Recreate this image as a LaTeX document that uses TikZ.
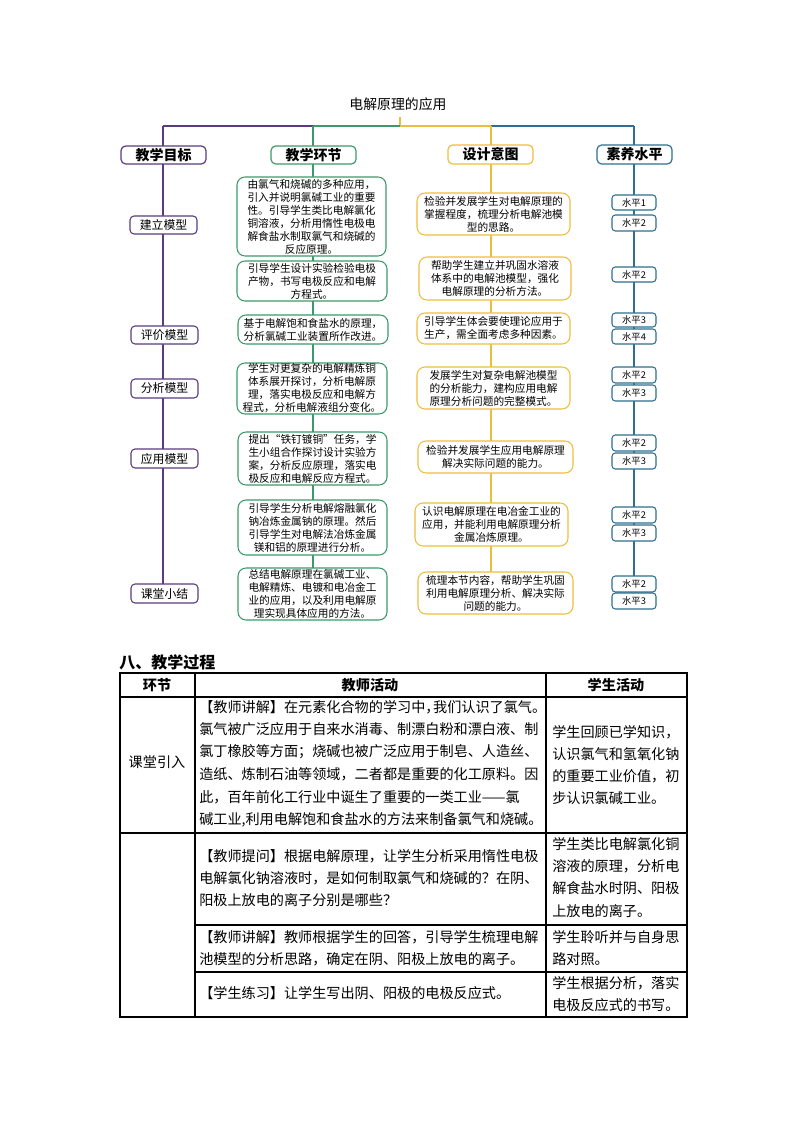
\documentclass[tikz,border=0pt]{standalone}
\usepackage{fontspec}
\setmainfont{Noto Sans CJK SC}
\usetikzlibrary{backgrounds}
\definecolor{cp}{HTML}{5A3A80}
\definecolor{cg}{HTML}{3A9A6A}
\definecolor{cy}{HTML}{EDBE3C}
\definecolor{cb}{HTML}{2E6E8E}
\newcommand{\bx}[7]{\node[#2, minimum width={(#5-#3)*0.75pt}, minimum height={(#6-#4)*0.75pt}] (#1) at ({(#3+#5)/2},{(#4+#6)/2}) {#7};}
\begin{document}
\begin{tikzpicture}[x=0.75pt,y=-0.75pt,
  rbox/.style={draw=#1, fill=white, rounded corners=6pt, line width=0.8pt, inner sep=0pt, outer sep=0pt, align=center, font=\fontsize{8}{9.75}\selectfont},
  hbox/.style={draw=#1, fill=white, rounded corners=3.5pt, line width=0.9pt, inner sep=0pt, outer sep=0pt, font=\fontsize{10.5}{12}\selectfont\bfseries},
  sbox/.style={draw=cp, fill=white, rounded corners=3pt, line width=0.8pt, inner sep=0pt, outer sep=0pt, font=\fontsize{8.9}{10}\selectfont},
  lvl/.style={draw=cb, fill=white, rounded corners=2.5pt, line width=0.8pt, inner sep=0pt, outer sep=0pt, font=\fontsize{7}{8}\selectfont},
  link/.style={line width=1.1pt},
  tline/.style={line width=0.8pt, black},
  tt/.style={anchor=west, inner sep=0pt, font=\fontsize{10.6}{12}\selectfont},
  tc/.style={inner sep=0pt, font=\fontsize{10.6}{12}\selectfont},
  th/.style={inner sep=0pt, font=\fontsize{10.6}{12}\selectfont\bfseries}]
\useasboundingbox (0,0) rectangle (794,1123);

% title and trunk coordinates
\node[inner sep=0pt, font=\fontsize{10.4}{12}\selectfont] (title) at (398,104) {电解原理的应用};
\coordinate (tstub) at (400,117);
\coordinate (top) at (400,126);
\coordinate (c1) at (163,126);
\coordinate (c2) at (313,126);
\coordinate (c3) at (491,126);
\coordinate (c4) at (634,126);

% headers
\bx{h1}{hbox=cp}{121}{146}{206}{164}{教学目标}
\bx{h2}{hbox=cg}{271}{146}{356}{164}{教学环节}
\bx{h3}{hbox=cy}{448}{145}{533}{164}{设计意图}
\bx{h4}{hbox=cb}{597}{145}{672}{164}{素养水平}

% column 1
\bx{s1}{sbox}{130}{216}{197}{234}{建立模型}
\bx{s2}{sbox}{131}{326}{198}{344}{评价模型}
\bx{s3}{sbox}{131}{379}{198}{398}{分析模型}
\bx{s4}{sbox}{131}{449}{198}{468}{应用模型}
\bx{s5}{sbox}{131}{584}{198}{603}{课堂小结}

% column 2
\bx{g1}{rbox=cg}{237}{177}{386}{256}{由氯气和烧碱的多种应用，\\引入并说明氯碱工业的重要\\性。引导学生类比电解氯化\\铜溶液，分析用惰性电极电\\解食盐水制取氯气和烧碱的\\反应原理。}
\bx{g2}{rbox=cg}{237}{261}{387}{301}{引导学生设计实验检验电极\\产物，书写电极反应和电解\\方程式。}
\bx{g3}{rbox=cg}{238}{315}{388}{344}{基于电解饱和食盐水的原理，\\分析氯碱工业装置所作改进。}
\bx{g4}{rbox=cg}{237}{363}{387}{414}{学生对更复杂的电解精炼铜\\体系展开探讨，分析电解原\\理，落实电极反应和电解方\\程式，分析电解液组分变化。}
\bx{g5}{rbox=cg}{238}{432}{387}{485}{提出“铁钉镀铜”任务，学\\生小组合作探讨设计实验方\\案，分析反应原理，落实电\\极反应和电解反应方程式。}
\bx{g6}{rbox=cg}{238}{500}{387}{555}{引导学生分析电解熔融氯化\\钠冶炼金属钠的原理。然后\\引导学生对电解法冶炼金属\\镁和铝的原理进行分析。}
\bx{g7}{rbox=cg}{238}{568}{387}{620}{总结电解原理在氯碱工业、\\电解精炼、电镀和电冶金工\\业的应用，以及利用电解原\\理实现具体应用的方法。}

% column 3
\bx{y1}{rbox=cy}{417}{193}{570}{235}{检验并发展学生对电解原理的\\掌握程度，梳理分析电解池模\\型的思路。}
\bx{y2}{rbox=cy}{419}{257}{571}{300}{帮助学生建立并巩固水溶液\\体系中的电解池模型，强化\\电解原理的分析方法。}
\bx{y3}{rbox=cy}{417}{313}{570}{344}{引导学生体会要使理论应用于\\生产，需全面考虑多种因素。}
\bx{y4}{rbox=cy}{417}{367}{570}{409}{发展学生对复杂电解池模型\\的分析能力，建构应用电解\\原理分析问题的完整模式。}
\bx{y5}{rbox=cy}{418}{441}{573}{473}{检验并发展学生应用电解原理\\解决实际问题的能力。}
\bx{y6}{rbox=cy}{415}{503}{568}{546}{认识电解原理在电冶金工业的\\应用，并能利用电解原理分析\\金属冶炼原理。}
\bx{y7}{rbox=cy}{418}{572}{573}{614}{梳理本节内容，帮助学生巩固\\利用电解原理分析、解决实际\\问题的能力。}

% column 4
\bx{l1}{lvl}{612}{195}{656}{210}{水平1}
\bx{l2}{lvl}{612}{215}{656}{231}{水平2}
\bx{l3}{lvl}{612}{267}{656}{282}{水平2}
\bx{l4}{lvl}{612}{313}{656}{327}{水平3}
\bx{l5}{lvl}{612}{329}{656}{344}{水平4}
\bx{l6}{lvl}{612}{367}{656}{383}{水平2}
\bx{l7}{lvl}{612}{385}{656}{401}{水平3}
\bx{l8}{lvl}{612}{435}{656}{451}{水平2}
\bx{l9}{lvl}{612}{453}{656}{469}{水平3}
\bx{l10}{lvl}{612}{507}{656}{523}{水平2}
\bx{l11}{lvl}{612}{525}{656}{541}{水平3}
\bx{l12}{lvl}{612}{576}{656}{592}{水平2}
\bx{l13}{lvl}{612}{593}{656}{609}{水平3}

\begin{pgfonlayer}{background}
  \draw[link, cy] (tstub) -- (top);
  \draw[link, cp] (c1) -- (c2);
  \draw[link, cg] (c2) -- (top);
  \draw[link, cy] (top) -- (c3);
  \draw[link, cb] (c3) -- (c4);
  \draw[link, cp] (c1) -- (c1 |- s5.north);
  \draw[link, cg] (c2) -- (c2 |- g7.north);
  \draw[link, cy] (c3) -- (c3 |- y7.north);
  \draw[link, cb] (c4) -- (c4 |- l12.north);
\end{pgfonlayer}

% section heading
\node[anchor=west, inner sep=0pt, font=\fontsize{12}{14}\selectfont\bfseries] (sec) at (119,662) {八、教学过程};

% table grid
\draw[tline] (120,673) rectangle (687,1017);
\draw[tline] (120,697) -- (687,697);
\draw[tline] (120,833) -- (687,833);
\draw[tline] (195,925) -- (687,925);
\draw[tline] (195,972) -- (687,972);
\draw[tline] (195,673) -- (195,1017);
\draw[tline] (546,673) -- (546,1017);

% header row
\node[th] (t00) at (157,685) {环节};
\node[th] (t01) at (370,685) {教师活动};
\node[th] (t02) at (616,685) {学生活动};

% row 1
\node[tc] (r1a) at (157,762) {课堂引入};
\node[tt] (r1b1) at (199,707) {【教师讲解】在元素化合物的学习中\makebox[0.55em][l]{，}我们认识了氯气。};
\node[tt] (r1b2) at (199,729.5) {氯气被广泛应用于自来水消毒、制漂白粉和漂白液、制};
\node[tt] (r1b3) at (199,752) {氯丁橡胶等方面；烧碱也被广泛应用于制皂、人造丝、};
\node[tt] (r1b4) at (199,774.5) {造纸、炼制石油等领域，二者都是重要的化工原料。因};
\node[tt] (r1b5) at (199,797) {此，百年前化工行业中诞生了重要的一类工业——氯};
\node[tt] (r1b6) at (199,819.5) {碱工业,利用电解饱和食盐水的方法来制备氯气和烧碱。};
\node[tt] (r1c1) at (552,732) {学生回顾已学知识，};
\node[tt] (r1c2) at (552,754) {认识氯气和氢氧化钠};
\node[tt] (r1c3) at (552,776) {的重要工业价值，初};
\node[tt] (r1c4) at (552,798) {步认识氯碱工业。};

% row 2
\node[tt] (r2b1) at (199,856) {【教师提问】根据电解原理，让学生分析采用惰性电极};
\node[tt] (r2b2) at (199,878) {电解氯化钠溶液时，是如何制取氯气和烧碱的？在阴、};
\node[tt] (r2b3) at (199,900) {阳极上放电的离子分别是哪些？};
\node[tt] (r2c1) at (552,844) {学生类比电解氯化铜};
\node[tt] (r2c2) at (552,866) {溶液的原理，分析电};
\node[tt] (r2c3) at (552,888) {解食盐水时阴、阳极};
\node[tt] (r2c4) at (552,911) {上放电的离子。};

% row 3
\node[tt] (r3b1) at (199,937) {【教师讲解】教师根据学生的回答，引导学生梳理电解};
\node[tt] (r3b2) at (199,959) {池模型的分析思路，确定在阴、阳极上放电的离子。};
\node[tt] (r3c1) at (552,937) {学生聆听并与自身思};
\node[tt] (r3c2) at (552,959) {路对照。};

% row 4
\node[tt] (r4b1) at (199,993) {【学生练习】让学生写出阴、阳极的电极反应式。};
\node[tt] (r4c1) at (552,983) {学生根据分析，落实};
\node[tt] (r4c2) at (552,1005) {电极反应式的书写。};
\end{tikzpicture}
\end{document}
